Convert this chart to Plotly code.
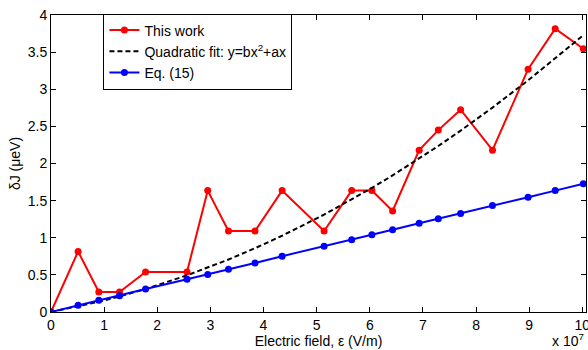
import plotly.graph_objects as go

# Data (electric field in units of 1e7 V/m, deltaJ in ueV)
field = [0, 0.51, 0.90, 1.29, 1.78, 2.56, 2.95, 3.34, 3.84, 4.35, 5.14,
         5.66, 6.04, 6.43, 6.93, 7.29, 7.71, 8.31, 8.98, 9.49, 10.02]
this_work = [0, 0.815, 0.27, 0.27, 0.54, 0.54, 1.635, 1.09, 1.09, 1.635, 1.09,
             1.635, 1.635, 1.36, 2.18, 2.45, 2.725, 2.18, 3.27, 3.815, 3.545]
quad_fit = [0, 0.073, 0.138, 0.209, 0.310, 0.494, 0.597, 0.707, 0.859, 1.027, 1.311,
            1.514, 1.671, 1.840, 2.066, 2.236, 2.443, 2.753, 3.120, 3.414, 3.728]
eq15 = [0, 0.09, 0.157, 0.218, 0.309, 0.440, 0.505, 0.575, 0.660, 0.752, 0.884,
        0.974, 1.040, 1.107, 1.196, 1.256, 1.328, 1.436, 1.546, 1.635, 1.727]
x_ticks = [0, 1, 2, 3, 4, 5, 6, 7, 8, 9, 10]
y_ticks = [0, 0.5, 1, 1.5, 2, 2.5, 3, 3.5, 4]
y_tick_text = ["0", "0.5", "1", "1.5", "2", "2.5", "3", "3.5", "4"]
x_range = [0, 10.07]
y_range = [0, 4]

FONT = "Liberation Sans, Arial, sans-serif"
FS = 14

fig = go.Figure()
fig.add_trace(go.Scatter(x=field, y=this_work, mode="lines+markers", name="This work",
                         line=dict(color="#ff0000", width=2),
                         marker=dict(color="#ff0000", size=7)))
fig.add_trace(go.Scatter(x=field, y=quad_fit, mode="lines",
                         name="Quadratic fit: y=bx<sup>2</sup>+ax",
                         line=dict(color="black", width=2, dash="5px,3px")))
fig.add_trace(go.Scatter(x=field, y=eq15, mode="lines+markers", name="Eq. (15)",
                         line=dict(color="#0000ff", width=2),
                         marker=dict(color="#0000ff", size=7)))

axis_common = dict(showgrid=False, zeroline=False, showline=True, linecolor="black",
                   linewidth=1, mirror="allticks", ticks="inside", ticklen=5,
                   tickcolor="black", ticklabeloverflow="allow", automargin=False,
                   tickfont=dict(family=FONT, size=FS, color="black"))

fig.update_xaxes(range=x_range, tickvals=x_ticks, ticktext=[str(v) for v in x_ticks],
                 title=dict(text="Electric field, \u03b5 (V/m)", standoff=0,
                            font=dict(family=FONT, size=FS, color="black")),
                 **axis_common)
fig.update_yaxes(range=y_range, tickvals=y_ticks, ticktext=y_tick_text,
                 title=dict(text="\u03b4J (\u03bceV)", standoff=3,
                            font=dict(family=FONT, size=FS, color="black")),
                 **axis_common)

fig.add_annotation(text="x 10<sup>7</sup>", xref="paper", yref="paper",
                   x=1.0, y=-0.13, xanchor="right", yanchor="bottom", showarrow=False,
                   font=dict(family=FONT, size=FS, color="black"))

fig.update_layout(
    width=588, height=350,
    margin=dict(l=51, r=2, t=15, b=38),
    plot_bgcolor="white", paper_bgcolor="white",
    font=dict(family=FONT, size=FS, color="black"),
    legend=dict(x=0.098, y=1.005, xanchor="left", yanchor="top",
                bgcolor="white", bordercolor="black", borderwidth=1,
                font=dict(family=FONT, size=FS, color="black"),
                tracegroupgap=0, itemwidth=30),
    showlegend=True,
)

fig.write_html("out.html")
